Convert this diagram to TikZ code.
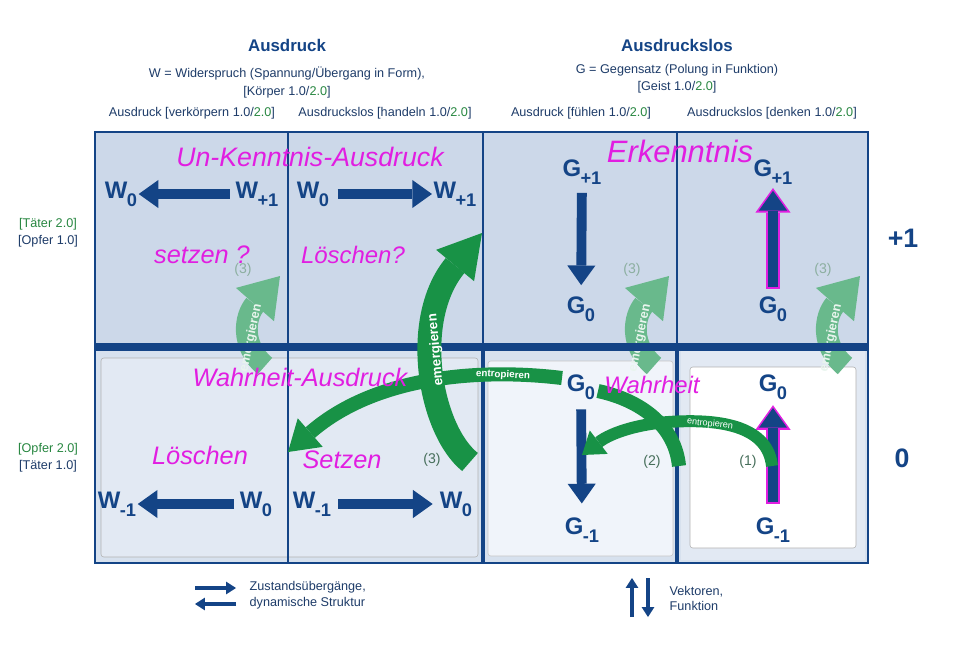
\documentclass[tikz,border=0pt]{standalone}
\usepackage{fontspec}
\setmainfont{Liberation Sans}
\usetikzlibrary{arrows.meta}
\definecolor{navy}{RGB}{20,68,134}
\definecolor{txtblue}{RGB}{30,60,105}
\definecolor{tgreen}{RGB}{40,135,65}
\definecolor{agreen}{RGB}{24,146,70}
\definecolor{fgreen}{RGB}{105,185,140}
\definecolor{fadenum}{RGB}{140,175,160}
\definecolor{numgreen}{RGB}{70,110,90}
\definecolor{hand}{RGB}{225,30,225}
\definecolor{toprow}{RGB}{204,216,233}
\definecolor{botrow}{RGB}{215,225,238}
\definecolor{panelA}{RGB}{226,233,243}
\definecolor{panelB}{RGB}{240,244,250}
\newcommand{\wg}[2]{#1\kern-0.5pt\raisebox{-5.5pt}{\fontsize{13}{13}\selectfont #2}}

\begin{document}
\begin{tikzpicture}[x=0.025cm,y=-0.025cm,
    hdr/.style={font=\fontsize{9}{11}\selectfont,text=txtblue,inner sep=1pt},
    ttl/.style={font=\bfseries\fontsize{12}{14}\selectfont,text=navy},
    state/.style={font=\bfseries\fontsize{17}{17}\selectfont,text=navy,inner sep=1pt},
    level/.style={font=\bfseries\fontsize{19}{19}\selectfont,text=navy},
    trans/.style={navy,line width=7pt,-{Triangle[width=20pt,length=14pt,line width=0pt]}},
    halo/.style={hand,line width=9.5pt,-{Triangle[width=25pt,length=17.5pt,line width=0pt]}},
    legarrow/.style={navy,line width=3.2pt,-{Triangle[width=9pt,length=7pt,line width=0pt]}},
    emband/.style={agreen,line width=17pt,-{Triangle[width=35pt,length=30pt,line width=0pt]}},
    twoband/.style={agreen,line width=10pt,-{Triangle[width=27pt,length=21pt,line width=0pt]}},
    oneband/.style={agreen,line width=8.5pt,-{Triangle[width=21pt,length=15pt,line width=0pt]}},
    fadeband/.style={fgreen,line width=15.5pt,-{Triangle[width=36pt,length=27pt,line width=0pt]}},
    bandlbl/.style={text=white,inner sep=0pt},
    stepno/.style={font=\fontsize{10}{12}\selectfont,text=numgreen},
    handnote/.style={font=\itshape\fontsize{18}{18}\selectfont,text=hand,inner sep=0pt}]
\useasboundingbox (0,0) rectangle (980,647);
\fill[white] (0,0) rectangle (980,647);
% cells
\fill[toprow] (95,132) rectangle (868,347);
\fill[botrow] (95,347) rectangle (868,563);
\draw[gray!60,fill=panelA,rounded corners=2pt] (101,358) rectangle (478,557);
\draw[gray!45,fill=panelB,rounded corners=2pt] (488,361) rectangle (673,556);
\fill[panelA] (681,351) rectangle (865,560);
\draw[gray!60,fill=white,rounded corners=2pt] (690,367) rectangle (856,548);
% faded arrows (3)
\foreach \dx/\nm in {0/a,389/b,580/c} {
    \draw[fadeband] (265+\dx,366) .. controls (240+\dx,345) and (245+\dx,316) .. (280+\dx,276);
    \node[bandlbl,rotate=78,font=\bfseries\fontsize{9}{9}\selectfont,text=white!85!fgreen] (fe\nm) at (251+\dx,338) {emergieren};
    \node[stepno,text=fadenum] (fn\nm) at (243+\dx,270) {(3)};
}
% grid
\draw[navy,line width=1.2pt] (95,132) rectangle (868,563);
\foreach \x/\w in {288/1pt,483/3.5pt,677/2.2pt} {
    \draw[navy,line width=1pt] (\x,132) -- (\x,347);
    \draw[navy,line width=\w] (\x,347) -- (\x,563);
}
\draw[navy,line width=5pt] (95,347) -- (868,347);
% headers
\node[ttl] (ttlW) at (287,45) {Ausdruck};
\node[hdr] (defW) at (287,74) {W = Widerspruch (Spannung/Übergang in Form),};
\node[hdr] (bodyW) at (287,92) {[Körper 1.0/\textcolor{tgreen}{2.0}]};
\node[ttl] (ttlG) at (677,45) {Ausdruckslos};
\node[hdr] (defG) at (677,70) {G = Gegensatz (Polung in Funktion)};
\node[hdr] (bodyG) at (677,87) {[Geist 1.0/\textcolor{tgreen}{2.0}]};
\node[hdr] (colA) at (192,113) {Ausdruck [verkörpern 1.0/\textcolor{tgreen}{2.0}]};
\node[hdr] (colB) at (385,113) {Ausdruckslos [handeln 1.0/\textcolor{tgreen}{2.0}]};
\node[hdr] (colC) at (581,113) {Ausdruck [fühlen 1.0/\textcolor{tgreen}{2.0}]};
\node[hdr] (colD) at (772,113) {Ausdruckslos [denken 1.0/\textcolor{tgreen}{2.0}]};
% rows
\node[hdr,text=tgreen] (taeterA) at (48,224) {[Täter 2.0]};
\node[hdr] (opferA) at (48,241) {[Opfer 1.0]};
\node[hdr,text=tgreen] (opferB) at (48,449) {[Opfer 2.0]};
\node[hdr] (taeterB) at (48,466) {[Täter 1.0]};
\node[level] (lvlOne) at (903,238) {+1};
\node[level] (lvlZero) at (902,458) {0};
% states
\node[state] (wzA) at (121,194) {\wg{W}{0}};
\node[state] (wpA) at (257,194) {\wg{W}{+1}};
\node[state] (wzB) at (313,194) {\wg{W}{0}};
\node[state] (wpB) at (455,194) {\wg{W}{+1}};
\node[state] (wmC) at (117,504) {\wg{W}{-1}};
\node[state] (wzC) at (256,504) {\wg{W}{0}};
\node[state] (wmD) at (312,504) {\wg{W}{-1}};
\node[state] (wzD) at (456,504) {\wg{W}{0}};
\node[state] (gpE) at (582,172) {\wg{G}{+1}};
\node[state] (gzE) at (581,309) {\wg{G}{0}};
\node[state] (gpF) at (773,172) {\wg{G}{+1}};
\node[state] (gzF) at (773,309) {\wg{G}{0}};
\node[state] (gzG) at (581,387) {\wg{G}{0}};
\node[state] (gmG) at (582,530) {\wg{G}{-1}};
\node[state] (gzH) at (773,387) {\wg{G}{0}};
\node[state] (gmH) at (773,530) {\wg{G}{-1}};
% transitions
\draw[trans,shorten <=3pt] (wpA) -- (wzA);
\draw[trans,shorten <=5pt] (wzB) -- (wpB);
\draw[trans,shorten <=3pt] (wzC) -- (wmC);
\draw[trans,shorten <=4pt,shorten >=4pt] (wmD) -- (wzD);
\draw[trans,shorten <=5pt,shorten >=7pt] (gpE) -- (gzE);
\draw[trans,shorten <=6pt,shorten >=9pt] (gzG) -- (gmG);
\draw[halo,shorten <=4.5pt,shorten >=1.5pt] (gzF) -- (gpF);
\draw[trans,shorten <=6pt,shorten >=3.5pt] (gzF) -- (gpF);
\draw[halo,shorten <=8.5pt,shorten >=3pt] (gmH) -- (gzH);
\draw[trans,shorten <=10pt,shorten >=5pt] (gmH) -- (gzH);
% (1)
\coordinate (oneTail) at (772,466);
\coordinate (oneTip) at (582,455);
\draw[oneband] (oneTail) .. controls (768,428) and (725,418) .. (668,422) .. controls (640,424) and (612,432) .. (oneTip);
\node[bandlbl,font=\fontsize{6.5}{6.5}\selectfont,rotate=-6] (entOne) at (710,424) {entropieren};
\node[stepno] (stOne) at (748,462) {(1)};
% (2)
\coordinate (twoTail) at (679,466);
\coordinate (twoMid) at (598,391);
\coordinate (twoRes) at (562,378);
\coordinate (twoTip) at (288,452);
\draw[agreen,line width=10pt] (twoTail) .. controls (675,425) and (640,400) .. (twoMid);
\draw[twoband] (twoRes) .. controls (480,368) and (375,376) .. (twoTip);
\node[bandlbl,font=\bfseries\fontsize{7}{7}\selectfont,rotate=-3] (entTwo) at (503,375) {entropieren};
\node[stepno] (stTwo) at (652,462) {(2)};
% (3)
\coordinate (emTail) at (470,462);
\coordinate (emTip) at (482,233);
\draw[emband] (emTail) .. controls (430,430) and (410,320) .. (emTip);
\node[bandlbl,font=\bfseries\fontsize{9.5}{9.5}\selectfont,rotate=95] (emText) at (436,350) {emergieren};
\node[stepno] (stThree) at (432,460) {(3)};
% handwritten notes
\node[handnote,font=\itshape\fontsize{19}{19}\selectfont] (unk) at (310,157) {Un-Kenntnis-Ausdruck};
\node[handnote,font=\itshape\fontsize{22}{22}\selectfont] (erk) at (680,151) {Erkenntnis};
\node[handnote] (setzQ) at (202,255) {setzen ?};
\node[handnote,font=\itshape\fontsize{17}{17}\selectfont] (loeQ) at (353,255) {Löschen?};
\node[handnote] (wahrA) at (300,377) {Wahrheit-Ausdruck};
\node[handnote,font=\itshape\fontsize{17}{17}\selectfont] (wahr) at (652,385) {Wahrheit};
\node[handnote] (loe) at (200,455) {Löschen};
\node[handnote] (setz) at (342,460) {Setzen};
% legend
\coordinate (lgA) at (195,588);
\coordinate (lgB) at (236,588);
\coordinate (lgC) at (236,604);
\coordinate (lgD) at (195,604);
\draw[legarrow] (lgA) -- (lgB);
\draw[legarrow] (lgC) -- (lgD);
\node[hdr,anchor=west] (legZ) at (248,587) {Zustandsübergänge,};
\node[hdr,anchor=west] (legS) at (248,603) {dynamische Struktur};
\coordinate (lgE) at (632,617);
\coordinate (lgF) at (632,578);
\coordinate (lgG) at (648,578);
\coordinate (lgH) at (648,617);
\draw[legarrow] (lgE) -- (lgF);
\draw[legarrow] (lgG) -- (lgH);
\node[hdr,anchor=west] (legV) at (668,592) {Vektoren,};
\node[hdr,anchor=west] (legF) at (668,606) {Funktion};
\end{tikzpicture}
\end{document}
